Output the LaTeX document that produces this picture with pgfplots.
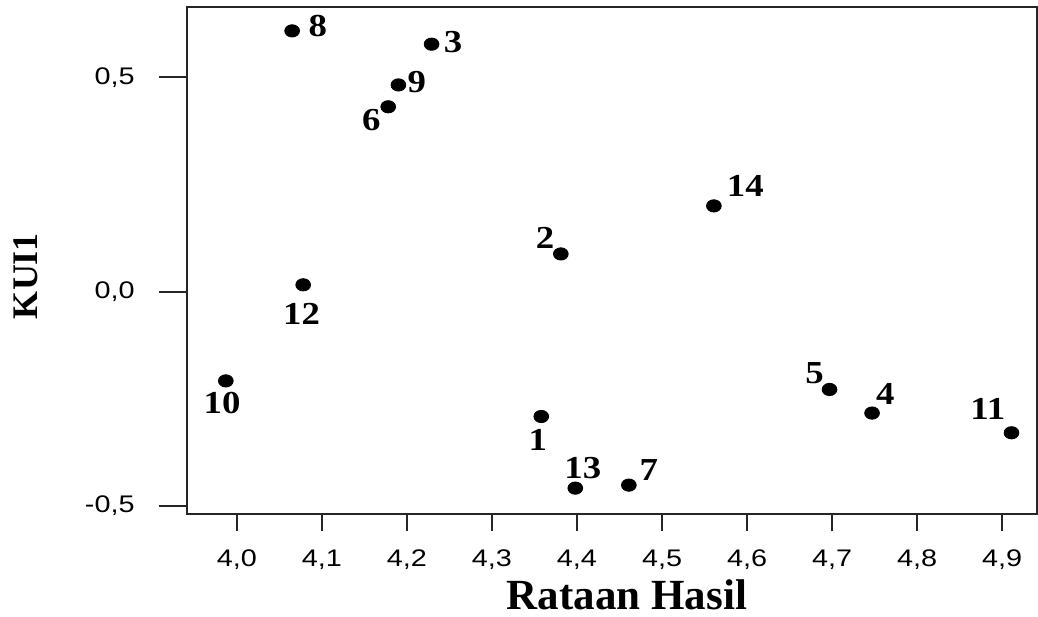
\documentclass[border=0pt]{standalone}
\usepackage{fontspec}
\setmainfont{Liberation Serif}
\newfontfamily\tickfont[FakeStretch=1.2]{Liberation Sans}
\newfontfamily\labfont[FakeStretch=1.15]{Liberation Serif}
\usepackage{pgfplots}
\pgfplotsset{compat=1.18}
\pgfplotstableread{
x y lab dx dy
4.065 0.608 8 12.9 2.35
4.229 0.577 3 10.75 1.05
4.190 0.482 9 9.2 1.25
4.178 0.431 6 -8.5 -6.65
4.561 0.200 14 15.7 9.95
4.381 0.088 2 -7.85 7.85
4.078 0.016 12 -0.8 -14.6
3.987 -0.208 10 -1.85 -11.15
4.697 -0.228 5 -7.5 8.15
4.747 -0.283 4 6.65 9.3
4.911 -0.329 11 -11.85 11.75
4.358 -0.291 1 -1.7 -11.8
4.398 -0.458 13 3.75 10.05
4.461 -0.451 7 10 7.75
}\pts
\begin{document}
\begin{tikzpicture}
\begin{axis}[
  scale only axis, width=425.15pt, height=253.5pt,
  xmin=3.941, xmax=4.941, ymin=-0.519, ymax=0.663,
  xtick={4.0,4.1,4.2,4.3,4.4,4.5,4.6,4.7,4.8,4.9},
  ytick={-0.5,0,0.5},
  xtick pos=bottom, ytick pos=left,
  tick align=outside,
  major tick length=4pt,
  xtick style={/pgfplots/major tick length=8.5pt},
  ytick style={/pgfplots/major tick length=14pt},
  axis line style={black!85, line width=1pt},
  every tick/.style={black!85, line width=1pt},
  /pgf/number format/.cd, fixed, fixed zerofill, precision=1, use comma, assume math mode=true,
  /pgfplots/.cd,
  ticklabel style={font=\tickfont\fontsize{12}{12}\selectfont, inner sep=0pt},
  xticklabel style={anchor=north, yshift=-13.5pt},
  yticklabel style={anchor=east, xshift=-21.85pt},
  xlabel={Rataan Hasil},
  ylabel={KUI1},
  xlabel style={font=\bfseries\fontsize{21.5}{21.5}\selectfont, at={(axis description cs:0.5178,-0.18738)}, anchor=base, inner sep=0pt},
  ylabel style={font=\bfseries\fontsize{18}{18}\selectfont, at={(axis description cs:-0.17488,0.470)}, anchor=base, inner sep=0pt},
  clip=false,
]
\addplot[only marks, mark=*, mark size=3.08pt, mark options={xscale=1.2, fill=black, draw=black},
  nodes near coords, point meta=explicit symbolic,
  visualization depends on={\thisrow{dx}\as\dx},
  visualization depends on={\thisrow{dy}\as\dy},
  every node near coord/.append style={anchor=center, xshift=\dx, yshift=\dy, font=\labfont\bfseries\fontsize{16}{16}\selectfont, inner sep=0pt, text=black}]
  table[x=x, y=y, meta=lab]{\pts};
\coordinate (SW) at (rel axis cs:0,0);
\coordinate (NE) at (rel axis cs:1,1);
\end{axis}
\pgfresetboundingbox
\path[use as bounding box] ([shift={(-93.35pt,-51.35pt)}]SW) rectangle ([shift={(0.5pt,3.65pt)}]NE);
\end{tikzpicture}
\end{document}
